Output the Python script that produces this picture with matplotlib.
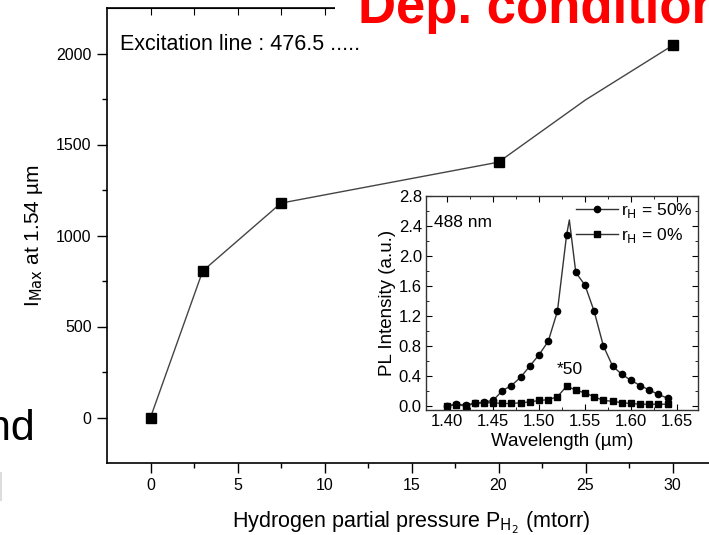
import matplotlib.pyplot as plt
from matplotlib.lines import Line2D
from matplotlib.patches import Rectangle

plt.rcParams['font.family'] = ['Liberation Sans', 'DejaVu Sans']

# main plot: peak intensity vs hydrogen pressure
pressure = [0, 3, 7.5, 20, 25, 30]
intensity = [0, 805, 1178, 1403, 1745, 2044]
main_marked = [0, 1, 2, 3, 5]

# inset: PL spectra
wl_50 = [1.40, 1.41, 1.42, 1.43, 1.44, 1.45, 1.46, 1.47, 1.48, 1.49, 1.50, 1.51, 1.52,
         1.53, 1.533, 1.54, 1.55, 1.56, 1.57, 1.58, 1.59, 1.60, 1.61, 1.62, 1.63, 1.64]
pl_50 = [0.00, 0.02, 0.01, 0.03, 0.05, 0.07, 0.20, 0.27, 0.38, 0.53, 0.68, 0.86, 1.26,
         2.28, 2.48, 1.78, 1.61, 1.26, 0.80, 0.53, 0.42, 0.34, 0.27, 0.21, 0.15, 0.10]
marked_50 = [i for i in range(len(wl_50)) if i != 14]

wl_0 = [1.40, 1.41, 1.42, 1.43, 1.44, 1.45, 1.46, 1.47, 1.48, 1.49, 1.50, 1.51, 1.52,
        1.53, 1.54, 1.55, 1.56, 1.57, 1.58, 1.59, 1.60, 1.61, 1.62, 1.63, 1.64]
pl_0 = [0.00, 0.01, 0.00, 0.03, 0.04, 0.04, 0.03, 0.03, 0.04, 0.05, 0.07, 0.08, 0.12,
        0.26, 0.21, 0.17, 0.12, 0.07, 0.06, 0.04, 0.03, 0.02, 0.02, 0.02, 0.02]

W, H = 709, 535
fig = plt.figure(figsize=(W / 100, H / 100), dpi=100)

# white patch behind slide title, covers the top spine
fig.patches.append(Rectangle((335 / W, 1 - 36 / H), 1, 36 / H, transform=fig.transFigure,
                             facecolor='white', edgecolor='none', zorder=10))
fig.text(358 / W, 1 - 23 / H, 'Dep. condition', color='red', fontsize=38,
         fontweight='bold', va='baseline', ha='left', zorder=11)
fig.text(35 / W, 1 - 440 / H, 'and', fontsize=31, va='baseline', ha='right')
fig.add_artist(Line2D([1 / W, 1 / W], [1 - 473 / H, 1 - 500 / H], color='#dddddd', lw=1.5))

ax = fig.add_axes([107 / W, 1 - 463 / H, (716 - 107) / W, (463 - 8) / H])
ax.plot(pressure, intensity, color='#444444', lw=1, marker='s', ms=6.5,
        mfc='black', mec='black', markevery=main_marked)
ax.set_xlim(-2.5, 32.5)
ax.set_ylim(-250, 2250)
ax.set_xticks([0, 5, 10, 15, 20, 25, 30])
ax.set_xticks([2.5, 7.5, 12.5, 17.5, 22.5, 27.5], minor=True)
ax.set_yticks([0, 500, 1000, 1500, 2000])
ax.set_yticks([250, 750, 1250, 1750], minor=True)
ax.tick_params(which='major', direction='out', length=7, width=1, labelsize=11.5, pad=4)
ax.tick_params(which='minor', direction='out', length=3.5, width=1)
for s in ax.spines.values():
    s.set_linewidth(1.2)
top = ax.secondary_xaxis('top')
top.set_xticks([0, 2.5, 5, 7.5, 10, 12.5, 15, 17.5, 20, 22.5, 25, 27.5, 30])
top.tick_params(direction='in', length=5, labeltop=False)
right = ax.secondary_yaxis('right')
right.set_yticks([0, 500, 1000, 1500, 2000])
right.tick_params(direction='in', length=5, labelright=False)

ax.set_xlabel(r'Hydrogen partial pressure P$_{\mathrm{H_2}}$ (mtorr)', fontsize=15.5, labelpad=12)
ax.set_ylabel(r'I$_{\mathrm{Max}}$ at 1.54 µm', fontsize=15, labelpad=8)
ax.text(0.022, 0.919, 'Excitation line : 476.5 .....', transform=ax.transAxes,
        fontsize=15.5, va='center', ha='left')

# inset
ins = fig.add_axes([426 / W, 1 - 410 / H, (698 - 426) / W, (410 - 196) / H])
ins.plot(wl_50, pl_50, color='#333333', lw=1, marker='o', ms=4.5, mfc='black',
         mec='black', markevery=marked_50, label=r'r$_\mathrm{H}$ = 50%')
ins.plot(wl_0, pl_0, color='#333333', lw=1, marker='s', ms=4.5, mfc='black',
         mec='black', label=r'r$_\mathrm{H}$ = 0%')
ins.set_xlim(1.377, 1.673)
ins.set_ylim(-0.057, 2.8)
ins.set_xticks([1.40, 1.45, 1.50, 1.55, 1.60, 1.65])
ins.set_xticklabels(['1.40', '1.45', '1.50', '1.55', '1.60', '1.65'])
ins.set_xticks([1.425, 1.475, 1.525, 1.575, 1.625], minor=True)
ins.set_yticks([0.0, 0.4, 0.8, 1.2, 1.6, 2.0, 2.4, 2.8])
ins.set_yticklabels(['0.0', '0.4', '0.8', '1.2', '1.6', '2.0', '2.4', '2.8'])
ins.set_yticks([0.2, 0.6, 1.0, 1.4, 1.8, 2.2, 2.6], minor=True)
ins.tick_params(which='both', direction='in', top=True, right=True, labelsize=12, pad=3)
ins.tick_params(which='major', length=4)
ins.tick_params(which='minor', length=2.5)
for s in ins.spines.values():
    s.set_linewidth(1)
    s.set_color('#333333')
ins.set_xlabel('Wavelength (µm)', fontsize=13.5, labelpad=3)
ins.set_ylabel('PL Intensity (a.u.)', fontsize=13.5, labelpad=2)
ins.text(0.03, 0.875, '488 nm', transform=ins.transAxes, fontsize=12.5, va='center')
ins.text(1.533, 0.48, '*50', fontsize=12.5, ha='center', va='center')
ins.legend(loc='upper right', frameon=False, fontsize=12.5, handlelength=2.4,
           handletextpad=0.2, borderaxespad=0.1, borderpad=0.2, labelspacing=0.35)

fig.savefig('out.png', dpi=100)
